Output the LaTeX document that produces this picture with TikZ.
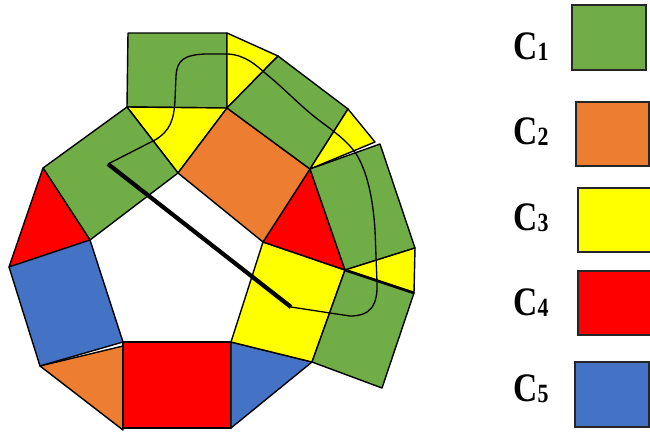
\documentclass[tikz,border=0pt]{standalone}
\usepackage{fontspec}
\setmainfont{Liberation Serif}
\usetikzlibrary{calc}
\definecolor{cgreen}{RGB}{112,173,71}
\definecolor{corange}{RGB}{237,125,49}
\definecolor{cyellow}{RGB}{255,255,0}
\definecolor{cred}{RGB}{255,0,0}
\definecolor{cblue}{RGB}{68,114,196}
\newcommand{\clab}[1]{\scalebox{0.83}[1]{C\raisebox{-1pt}{\fontsize{15}{15}\selectfont #1}}}

\begin{document}
\begin{tikzpicture}[x=0.02cm,y=-0.02cm,
  tile/.style={draw=black,line width=0.8pt,line join=round},
  legbox/.style={draw=black!85,line width=0.9pt},
  lab/.style={anchor=base west,inner sep=0pt,font=\fontsize{23}{26}\selectfont\bfseries},
  route/.style={line width=0.75pt},
  cut/.style={line width=2.4pt}]
\useasboundingbox (0,0) rectangle (650,433);
% inner pentagon
\coordinate (pa) at (178,173);
\coordinate (pb) at (263,242);
\coordinate (pc) at (231,342);
\coordinate (pd) at (123,342);
\coordinate (pe) at (90,240);
% outer corners
\coordinate (q1) at (127,107);
\coordinate (q2) at (227,108);
\coordinate (q3) at (310,169);
\coordinate (q4) at (345,270);
\coordinate (q5) at (312,362);
\coordinate (q6) at (43,168);
\coordinate (q7) at (9,267);
\coordinate (q8) at (40,366);

% ring of tiles
\filldraw[tile,fill=cgreen] (128,33) -- (227,33) -- (q2) -- (q1) -- cycle;
\filldraw[tile,fill=cyellow] (q1) -- (q2) -- (pa) -- cycle;
\filldraw[tile,fill=cgreen] (q1) -- (pa) -- (pe) -- (q6) -- cycle;
\filldraw[tile,fill=cred] (q6) -- (pe) -- (q7) -- cycle;
\filldraw[tile,fill=cblue] (q7) -- (pe) -- (pd) -- (q8) -- cycle;
\filldraw[tile,fill=corange] (q8) -- (123,346) -- (123,430) -- cycle;
\filldraw[tile,fill=cred] (pd) -- (pc) -- (231,428) -- (123,428) -- cycle;
\filldraw[tile,fill=cblue] (pc) -- (q5) -- (231,428) -- cycle;
\filldraw[tile,fill=cyellow] (pc) -- (pb) -- (q4) -- (q5) -- cycle;
\filldraw[tile,fill=cred] (pb) -- (q3) -- (q4) -- cycle;
\filldraw[tile,fill=corange] (pa) -- (q2) -- (q3) -- (pb) -- cycle;
% outer arc
\filldraw[tile,fill=cyellow] (227,33) -- (278,56) -- (q2) -- cycle;
\filldraw[tile,fill=cgreen] (q2) -- (278,56) -- (348,109) -- (q3) -- cycle;
\filldraw[tile,fill=cyellow] (348,109) -- (375,142) -- (q3) -- cycle;
\filldraw[tile,fill=cgreen] (q3) -- (380,144) -- (415,248) -- (q4) -- cycle;
\filldraw[tile,fill=cyellow] (q4) -- (415,248) -- (414,293) -- cycle;
\filldraw[tile,fill=cgreen] (q4) -- (414,293) -- (382,388) -- (q5) -- cycle;
\draw[line width=1.6pt] (q4) -- (414,293);

% path and cut
\coordinate (s) at (108,164);
\coordinate (t) at (291,307);
\draw[route] (s) -- (155,140) .. controls (170,131) and (174,120) .. (175,100)
  -- (176,76) .. controls (177,60) and (184,55) .. (205,54) -- (228,54)
  .. controls (245,55) and (256,65) .. (265,73)
  .. controls (285,89) and (300,106) .. (320,121)
  .. controls (336,133) and (350,143) .. (358,157)
  .. controls (368,175) and (373,200) .. (375,230) -- (377,282)
  .. controls (378,306) and (370,316) .. (350,316) -- (330,313) -- (t);
\draw[cut] (s) -- (t);

% legend
\node[lab] (l1) at (513,59) {\clab{1}};
\node[lab] (l2) at (513,144) {\clab{2}};
\node[lab] (l3) at (513,230) {\clab{3}};
\node[lab] (l4) at (513,315) {\clab{4}};
\node[lab] (l5) at (513,401) {\clab{5}};
\filldraw[legbox,fill=cgreen] (572,5) rectangle (646,70);
\filldraw[legbox,fill=corange] (576,102) rectangle (649,166);
\filldraw[legbox,fill=cyellow] (578,188) rectangle (656,252);
\filldraw[legbox,fill=cred] (578,271) rectangle (656,335);
\filldraw[legbox,fill=cblue] (575,362) rectangle (649,427);
\end{tikzpicture}
\end{document}
